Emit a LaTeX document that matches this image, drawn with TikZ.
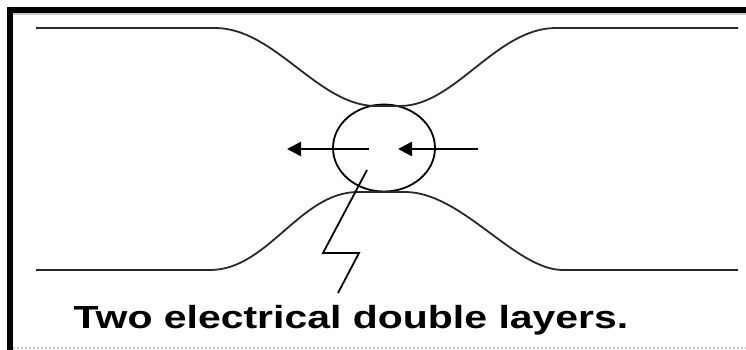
\documentclass[tikz,border=0pt]{standalone}
\usepackage{fontspec}
\setmainfont{Liberation Sans}
\usepackage{tikz}
\usetikzlibrary{arrows.meta,shapes.geometric,positioning}
\definecolor{framegray}{RGB}{200,200,200}
\definecolor{linegray}{RGB}{40,40,40}
\tikzset{
  surface/.style ={draw=linegray, line width=1.8pt},
  contactzone/.style={ellipse, draw=black, line width=1.8pt, minimum width=102pt,
                 minimum height=87pt, inner sep=0pt},
  force/.style   ={-{Triangle[length=14pt,width=14pt]}, line width=2.6pt, draw=black},
  zigzag/.style  ={draw=black, line width=1.8pt},
  caption/.style ={font=\fontsize{32}{36}\selectfont\bfseries, inner sep=0pt, anchor=base}
}
\begin{document}
\begin{tikzpicture}[x=1pt,y=-1pt]
\useasboundingbox (0,0) rectangle (746,350);
% frame
\draw[line width=6pt] (10,350) -- (10,10) -- (746,10);
\draw[framegray, line width=2pt] (13,14.5) -- (746,14.5);
\draw[framegray, line width=2pt, dotted] (13,348) -- (746,348);
% contact zone
\node[contactzone] (zone) at (384,148) {};
% upper and lower surfaces
\draw[surface] (36,28) -- (215,28) .. controls (275,28) and (318,106) .. (376,106)
  -- (400,106) .. controls (455,106) and (496,28) .. (556,28) -- (738,28);
\draw[surface] (36,270) -- (210,270) .. controls (268,270) and (300,192) .. (358,192)
  -- (405,192) .. controls (462,192) and (515,270) .. (563,270) -- (738,270);
% forces
\coordinate (lefttail) at (369,149);
\coordinate (lefttip) at (287,149);
\coordinate (righttail) at (478,149);
\coordinate (righttip) at (398,149);
\draw[force] (lefttail) -- (lefttip);
\draw[force] (righttail) -- (righttip);
% caption and pointer
\node[caption] (label) at (351,328) {\scalebox{1.28}[1]{Two electrical double layers.}};
\coordinate (zz1) at (367,170);
\coordinate (zz2) at (323,253);
\coordinate (zz3) at (359,253);
\coordinate (zz4) at (338,293);
\draw[zigzag] (zz1) -- (zz2) -- (zz3) -- (zz4);
\end{tikzpicture}
\end{document}
